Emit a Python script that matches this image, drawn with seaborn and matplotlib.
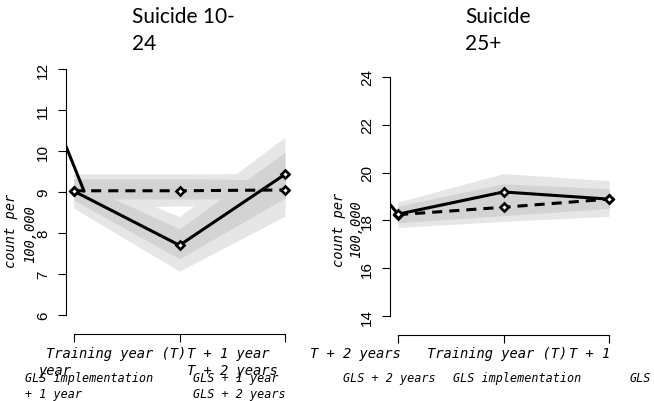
import matplotlib
matplotlib.use("Agg")
import matplotlib.pyplot as plt
import seaborn as sns

W, H = 654, 402

periods = [1, 2, 3]

# Suicide 10-24
young_obs = [9.02, 7.70, 9.43]
young_cf = [9.03, 9.03, 9.05]
young_pre_x = [0.915, 1.095]
young_pre_y = [10.17, 9.02]
young_obs_lo95 = [8.60, 7.07, 8.41]
young_obs_hi95 = [9.45, 8.40, 10.34]
young_obs_lo = [8.80, 7.37, 8.85]
young_obs_hi = [9.28, 8.10, 9.97]
young_cf_lo95 = [8.60, 8.66, 8.62]
young_cf_hi95 = [9.44, 9.44, 9.46]
young_cf_lo = [8.83, 8.83, 8.84]
young_cf_hi = [9.32, 9.32, 9.30]
young_yticks = [6, 7, 8, 9, 10, 11, 12]

# Suicide 25+
old_obs = [18.26, 19.19, 18.89]
old_cf = [18.24, 18.55, 18.89]
old_pre_x = [0.905, 1.0]
old_pre_y = [18.77, 18.26]
old_obs_lo95 = [17.75, 18.45, 18.20]
old_obs_hi95 = [18.77, 19.96, 19.66]
old_obs_lo = [17.95, 18.80, 18.55]
old_obs_hi = [18.60, 19.53, 19.32]
old_cf_lo95 = [17.70, 17.96, 18.17]
old_cf_hi95 = [18.75, 19.15, 19.60]
old_cf_lo = [17.90, 18.20, 18.50]
old_cf_hi = [18.60, 18.90, 19.28]
old_yticks = [14, 16, 18, 20, 22, 24]

LIGHT = "#e6e6e6"
DARK = "#d3d3d3"
MONO = dict(family="DejaVu Sans Mono", style="oblique", color="black")

sns.set_style("ticks")
plt.rcParams["font.family"] = "Liberation Sans"

fig = plt.figure(figsize=(W / 100, H / 100), dpi=100)


def fx(px):
    return px / W


def fy(py):
    return 1 - py / H


def add_axes(left, right, top, bottom):
    return fig.add_axes([fx(left), fy(bottom), (right - left) / W, (bottom - top) / H])


def draw_panel(ax, obs, cf, pre_x, pre_y, bands95, bands, yticks, ylim):
    for lo, hi in bands95:
        ax.fill_between(periods, lo, hi, color=LIGHT, linewidth=0, zorder=1)
    for lo, hi in bands:
        ax.fill_between(periods, lo, hi, color=DARK, linewidth=0, zorder=2)
    line_kw = dict(color="black", linewidth=2.2)
    mark_kw = dict(marker="D", markersize=4.3, markerfacecolor="white",
                   markeredgecolor="black", markeredgewidth=1.9)
    sns.lineplot(x=pre_x, y=pre_y, ax=ax, zorder=3, **line_kw)
    sns.lineplot(x=periods, y=cf, ax=ax, zorder=4, linestyle=(0, (3.3, 2.3)),
                 **line_kw, **mark_kw)
    sns.lineplot(x=periods, y=obs, ax=ax, zorder=5, **line_kw, **mark_kw)

    ax.set_xlim(0.92, 3.08)
    ax.set_ylim(*ylim)
    sns.despine(ax=ax)
    ax.spines["bottom"].set_position(("outward", 6.5))
    ax.spines["bottom"].set_bounds(1, 3)
    ax.spines["left"].set_bounds(yticks[0], yticks[-1])
    for s in ("left", "bottom"):
        ax.spines[s].set_color("black")
        ax.spines[s].set_linewidth(0.8)
    ax.set_xticks(periods)
    ax.set_xticklabels([])
    ax.set_yticks(yticks)
    ax.set_yticklabels([str(t) for t in yticks])
    ax.tick_params(axis="both", direction="out", length=6, width=0.8, color="black")
    ax.tick_params(axis="y", labelrotation=90, pad=5, labelsize=11, labelcolor="black")
    for lab in ax.get_yticklabels():
        lab.set_va("center")
    ax.set_xlabel("")
    ax.set_ylabel("")
    ax.patch.set_alpha(0)


ax1 = add_axes(65.6, 293.4, 60.2, 325.8)
draw_panel(ax1, young_obs, young_cf, young_pre_x, young_pre_y,
           [(young_obs_lo95, young_obs_hi95), (young_cf_lo95, young_cf_hi95)],
           [(young_obs_lo, young_obs_hi), (young_cf_lo, young_cf_hi)],
           young_yticks, (5.76, 12.24))

ax2 = add_axes(389.6, 617.4, 68.4, 326.6)
draw_panel(ax2, old_obs, old_cf, old_pre_x, old_pre_y,
           [(old_obs_lo95, old_obs_hi95), (old_cf_lo95, old_cf_hi95)],
           [(old_obs_lo, old_obs_hi), (old_cf_lo, old_cf_hi)],
           old_yticks, (13.6, 24.4))

# titles
title_lines = [("Suicide 10-", 132, 23), ("24", 132, 50),
               ("Suicide", 465, 23), ("25+", 465, 50)]
for txt, px, py in title_lines:
    fig.text(fx(px), fy(py), txt, family="Lato", fontsize=15,
             ha="left", va="baseline", color="black")

# y labels
ylab_lines = [("count per", 14.5, 268), ("100,000", 34, 263),
              ("count per", 343.5, 267), ("100,000", 360, 258)]
for txt, px, py in ylab_lines:
    fig.text(fx(px), fy(py), txt, fontsize=9.9, rotation=90,
             rotation_mode="anchor", ha="left", va="baseline", **MONO)

# x tick labels (as they come out of the original layout)
row_big = [("Training year (T)", 46, 358), ("T + 1 year", 187, 358),
           ("T + 2 years", 310, 358), ("Training year (T)", 427, 358),
           ("T + 1", 569, 358), ("year", 38, 375), ("T + 2 years", 187, 375)]
row_small = [("GLS implementation", 25, 382), ("GLS + 1 year", 193, 382),
             ("+ 1 year", 25, 398), ("GLS + 2 years", 193, 398),
             ("GLS + 2 years", 343, 382), ("GLS implementation", 453, 382),
             ("GLS", 630, 382)]
for txt, px, py in row_big:
    fig.text(fx(px), fy(py), txt, fontsize=9.9, ha="left", va="baseline", **MONO)
for txt, px, py in row_small:
    fig.text(fx(px), fy(py), txt, fontsize=8.5, ha="left", va="baseline", **MONO)

fig.savefig("out.png", dpi=100)
